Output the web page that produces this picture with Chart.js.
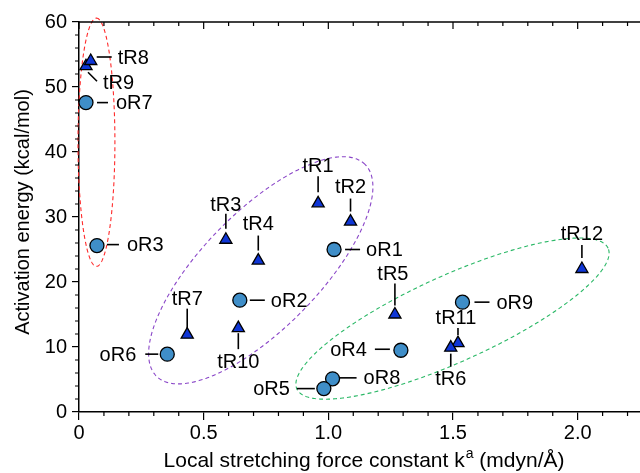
<!DOCTYPE html>
<html>
<head>
<meta charset="utf-8">
<script src="https://cdn.jsdelivr.net/npm/chart.js@4/dist/chart.umd.min.js"></script>
<style>
html,body{margin:0;padding:0;background:#fff;overflow:hidden;}
</style>
</head>
<body>
<canvas id="c" width="640" height="473" style="display:block;width:640px;height:473px"></canvas>
<script>
// ---- data ----
const circleNames = ['oR1','oR2','oR3','oR4','oR6','oR7','oR8','oR9','oR5'];
const circleK     = [1.023, 0.645, 0.072, 1.291, 0.354, 0.028, 1.017, 1.538, 0.982];
const circleE     = [25.0, 17.2, 25.6, 9.5, 8.9, 47.6, 5.1, 16.9, 3.6];

const triNames = ['tR1','tR2','tR3','tR4','tR5','tR11','tR7','tR9','tR8','tR10','tR6','tR12'];
const triK     = [0.959, 1.089, 0.589, 0.719, 1.267, 1.520, 0.434, 0.028, 0.047, 0.639, 1.491, 2.017];
const triE     = [32.1, 29.3, 26.5, 23.3, 15.0, 10.6, 11.9, 53.2, 54.0, 12.9, 9.9, 22.0];

const xTickValues = [0, 0.5, 1.0, 1.5, 2.0];
const yTickValues = [0, 10, 20, 30, 40, 50, 60];
const xTitleMain = 'Local stretching force constant k';
const xTitleSup = 'a';
const xTitleEnd = ' (mdyn/Å)';
const yTitle = 'Activation energy (kcal/mol)';

// dashed grouping ellipses (data coords: centre, two conjugate semi-axis vectors)
const ellipses = [
  {c:[0.070, 41.5], u:[0, 19.1],      v:[0.074, 0],     color:'#ff2a2a'},
  {c:[0.729, 21.8], u:[0.418, 16.3],  v:[-0.166, 6.3],  color:'#8a46c8'},
  {c:[1.498, 14.37],u:[0.624, 10.83], v:[-0.0713, 6.04],color:'#2ab866'}
];

// label placement (pixel offsets from the marker): leader line [x1,y1,x2,y2], text [dx,dy], align
const labelLayout = {
  oR1:{l:[11,0,26,0],  t:[32,0],  a:'left'},
  oR2:{l:[10,0,25,0],  t:[31,0],  a:'left'},
  oR3:{l:[10,-1,22,-1],t:[30,-1], a:'left'},
  oR4:{l:[-26,-1,-11,-1],t:[-34,-1],a:'right'},
  oR5:{l:[-27,0,-9,0], t:[-34,0], a:'right'},
  oR6:{l:[-22,0,-9,0], t:[-31,0], a:'right'},
  oR7:{l:[11,0,22,0],  t:[30,0],  a:'left'},
  oR8:{l:[7,-1,24,-1], t:[31,-1], a:'left'},
  oR9:{l:[12,0,27,0],  t:[34,0],  a:'left'},
  tR1:{l:[0,-27,0,-11],t:[0,-38], a:'center'},
  tR2:{l:[0,-23,0,-10],t:[0,-35], a:'center'},
  tR3:{l:[0,-26,0,-11],t:[0,-35], a:'center'},
  tR4:{l:[0,-25,0,-10],t:[0,-37], a:'center'},
  tR5:{l:[0,-31,0,-9], t:[-2,-41],a:'center'},
  tR6:{l:[0,6,0,19],   t:[0,31],  a:'center'},
  tR7:{l:[0,-26,0,-6], t:[0,-36], a:'center'},
  tR8:{l:[6,-4,21,-4], t:[27,-4], a:'left'},
  tR9:{l:[2,6,11,15],  t:[17,16], a:'left'},
  tR10:{l:[0,5,0,21],  t:[0,33],  a:'center'},
  tR11:{l:[0,-15,0,-8],t:[-2,-26],a:'center'},
  tR12:{l:[0,-24,0,-11],t:[0,-36],a:'center'}
};

const FONT = '"Liberation Sans", Arial, Helvetica, sans-serif';
const FS = 20, FT = 21, FY = 20;

const circlePts = circleK.map((k,i)=>({x:k, y:circleE[i], name:circleNames[i]}));
const triPts = triK.map((k,i)=>({x:k, y:triE[i], name:triNames[i]}));

const decor = {
  id:'decor',
  beforeDatasetsDraw(chart){
    const {ctx, scales:{x,y}} = chart;
    ctx.save();
    ellipses.forEach(e=>{
      ctx.beginPath();
      for(let i=0;i<=360;i++){
        const t=i*Math.PI/180;
        const vx=e.c[0]+e.u[0]*Math.cos(t)+e.v[0]*Math.sin(t);
        const vy=e.c[1]+e.u[1]*Math.cos(t)+e.v[1]*Math.sin(t);
        const px=x.getPixelForValue(vx), py=y.getPixelForValue(vy);
        if(i===0) ctx.moveTo(px,py); else ctx.lineTo(px,py);
      }
      ctx.closePath();
      ctx.setLineDash([4,3]);
      ctx.strokeStyle=e.color; ctx.lineWidth=1.1; ctx.stroke();
    });
    ctx.restore();
  },
  afterDatasetsDraw(chart){
    const {ctx, scales:{x,y}, chartArea:ca} = chart;
    ctx.save();
    ctx.font = FS+'px '+FONT;
    ctx.fillStyle='#000'; ctx.strokeStyle='#000'; ctx.lineWidth=1.6;
    ctx.textBaseline='middle';
    chart.data.datasets.forEach(ds=>{
      ds.data.forEach(p=>{
        const L = labelLayout[p.name]; if(!L) return;
        const px=x.getPixelForValue(p.x), py=y.getPixelForValue(p.y);
        ctx.beginPath();
        ctx.moveTo(px+L.l[0], py+L.l[1]); ctx.lineTo(px+L.l[2], py+L.l[3]);
        ctx.stroke();
        ctx.textAlign=L.a;
        ctx.fillText(p.name, px+L.t[0], py+L.t[1]+1);
      });
    });
    // top border + minor ticks
    ctx.lineWidth=1.5; ctx.strokeStyle='#000';
    ctx.beginPath();
    ctx.moveTo(ca.left, ca.top); ctx.lineTo(ca.right, ca.top); ctx.stroke();
    ctx.lineWidth=1.2;
    ctx.beginPath();
    for(let i=0;i<=22;i++){
      const v=i/10, px=x.getPixelForValue(v);
      const major = (i%5===0);
      if(!major){ ctx.moveTo(px, ca.bottom); ctx.lineTo(px, ca.bottom+4); }
      ctx.moveTo(px, ca.top); ctx.lineTo(px, ca.top+(major?7:4));
    }
    for(let v=0; v<=60; v+=2){
      if(v%10===0) continue;
      const py=y.getPixelForValue(v);
      ctx.moveTo(ca.left, py); ctx.lineTo(ca.left-4, py);
    }
    ctx.stroke();
    // axis titles
    ctx.fillStyle='#000';
    ctx.textBaseline='alphabetic';
    ctx.font = FT+'px '+FONT;
    const supFont = Math.round(FT*0.68)+'px '+FONT;
    const w1=ctx.measureText(xTitleMain).width;
    const w3=ctx.measureText(xTitleEnd).width;
    ctx.font=supFont; const w2=ctx.measureText(xTitleSup).width;
    const total=w1+w2+w3+1;
    let sx=364 - total/2;
    const by=467;
    ctx.textAlign='left';
    ctx.font = FT+'px '+FONT; ctx.fillText(xTitleMain, sx, by);
    ctx.font = supFont; ctx.fillText(xTitleSup, sx+w1+1, by-9);
    ctx.font = FT+'px '+FONT; ctx.fillText(xTitleEnd, sx+w1+w2+1, by);
    ctx.save();
    ctx.font = FY+'px '+FONT;
    ctx.translate(29, 212);
    ctx.rotate(-Math.PI/2);
    ctx.textAlign='center';
    ctx.fillText(yTitle, 0, 0);
    ctx.restore();
    ctx.restore();
  }
};

new Chart(document.getElementById('c'), {
  type:'scatter',
  data:{
    datasets:[
      {label:'o', data:circlePts, pointStyle:'circle', pointRadius:7, pointHoverRadius:7,
       backgroundColor:'#3f8ec8', borderColor:'#000', borderWidth:1.3},
      {label:'t', data:triPts, pointStyle:'triangle', pointRadius:7, pointHoverRadius:7,
       backgroundColor:'#0f36d6', borderColor:'#000', borderWidth:1.3}
    ]
  },
  options:{
    responsive:false, devicePixelRatio:1, animation:false,
    layout:{autoPadding:false, padding:{top:22, right:0, left:0, bottom:0}},
    plugins:{legend:{display:false}, tooltip:{enabled:false}},
    events:[],
    clip:false,
    scales:{
      x:{type:'linear', min:0, max:2.25,
         afterBuildTicks(s){ s.ticks = xTickValues.map(v=>({value:v})); },
         afterFit(s){ s.height = 61; s.paddingLeft = 0; s.paddingRight = 0; },
         ticks:{includeBounds:false, color:'#000', padding:1, maxRotation:0,
                font:{family:FONT, size:FS},
                callback:(v)=> v===0 ? '0' : Number(v).toFixed(1)},
         grid:{drawOnChartArea:false, tickLength:8, color:'#000', lineWidth:1.2},
         border:{display:true, color:'#000', width:1.5}},
      y:{type:'linear', min:0, max:60,
         afterBuildTicks(s){ s.ticks = yTickValues.map(v=>({value:v})); },
         afterFit(s){ s.width = 79; s.paddingTop = 0; s.paddingBottom = 0; },
         ticks:{color:'#000', padding:5, font:{family:FONT, size:FS},
                callback:(v)=> String(v)},
         grid:{drawOnChartArea:false, tickLength:7, color:'#000', lineWidth:1.2},
         border:{display:true, color:'#000', width:1.5}}
    }
  },
  plugins:[decor]
});
</script>
</body>
</html>
